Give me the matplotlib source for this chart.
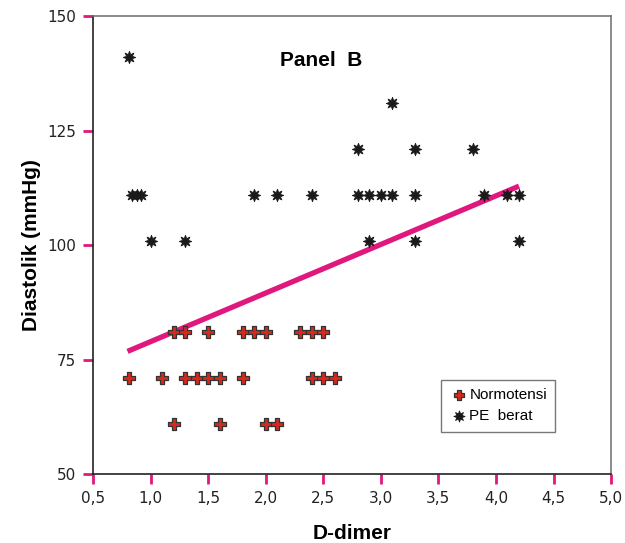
import numpy as np
import matplotlib.pyplot as plt
from matplotlib.ticker import FuncFormatter

# Normotensi group
norm_x = [1.2, 1.3, 1.5, 1.8, 1.9, 2.0, 2.3, 2.4, 2.5,
          0.81, 1.1, 1.3, 1.4, 1.5, 1.6, 1.8, 2.4, 2.5, 2.6,
          1.2, 1.6, 2.0, 2.1]
norm_y = [81, 81, 81, 81, 81, 81, 81, 81, 81,
          71, 71, 71, 71, 71, 71, 71, 71, 71, 71,
          61, 61, 61, 61]

# PE berat group
pe_x = [0.81,
        0.84, 0.88, 0.92, 1.9, 2.1, 2.4, 2.8, 2.9, 3.0, 3.1, 3.3, 3.9, 4.1, 4.2,
        1.0, 1.3, 2.9, 3.3, 4.2,
        2.8, 3.3, 3.8,
        3.1]
pe_y = [141,
        111, 111, 111, 111, 111, 111, 111, 111, 111, 111, 111, 111, 111, 111,
        101, 101, 101, 101, 101,
        121, 121, 121,
        131]

# regression line ends
fit_x = [0.8, 4.2]
fit_y = [76.8, 112.9]

pink = '#e0177c'

fig = plt.figure(figsize=(6.25, 5.43), dpi=100)
ax = fig.add_axes([0.1488, 0.127, 0.829, 0.843])

ax.plot(fit_x, fit_y, color=pink, lw=3.8, solid_capstyle='butt', zorder=2)
ax.scatter(norm_x, norm_y, marker='P', s=65, facecolor='#d42a1e',
           edgecolor='#333333', linewidths=0.9, zorder=3, label='Normotensi')
ax.scatter(pe_x, pe_y, marker=(8, 1, 0), s=80, facecolor='#1a1a1a',
           edgecolor='#1a1a1a', linewidths=0.6, zorder=3, label='PE  berat')

ax.set_xlim(0.5, 5.0)
ax.set_ylim(50, 150)
ax.set_xticks(np.arange(0.5, 5.01, 0.5))
ax.set_yticks([50, 75, 100, 125, 150])
ax.xaxis.set_major_formatter(FuncFormatter(lambda v, p: f'{v:.1f}'.replace('.', ',')))

for side in ['top', 'right']:
    ax.spines[side].set_color('#777777')
for side in ['left', 'bottom']:
    ax.spines[side].set_color('#222222')
for sp in ax.spines.values():
    sp.set_linewidth(1.2)

ax.tick_params(axis='both', direction='out', length=7, width=2, color=pink,
               labelsize=11, labelcolor='#222222', pad=5)
for lab in ax.get_xticklabels() + ax.get_yticklabels():
    lab.set_family(['Liberation Sans Narrow', 'DejaVu Sans'])

ax.set_xlabel('D-dimer', fontsize=15, fontweight='bold', family='Liberation Sans',
              labelpad=13)
ax.set_ylabel('Diastolik (mmHg)', fontsize=15, fontweight='bold', family='Liberation Sans',
              labelpad=5)
ax.text(0.44, 0.903, 'Panel  B', transform=ax.transAxes, fontsize=15,
        fontweight='bold', family='Liberation Sans', ha='center', va='center')

leg = ax.legend(loc='upper left', bbox_to_anchor=(0.657, 0.222), frameon=True,
                fancybox=False, edgecolor='#555555',
                prop={'family': 'Liberation Sans', 'size': 11},
                handletextpad=0.1, borderpad=0.55, labelspacing=0.45,
                handlelength=1.2, markerscale=0.9)
leg.get_frame().set_linewidth(1.0)

fig.savefig('out.png', dpi=100)
